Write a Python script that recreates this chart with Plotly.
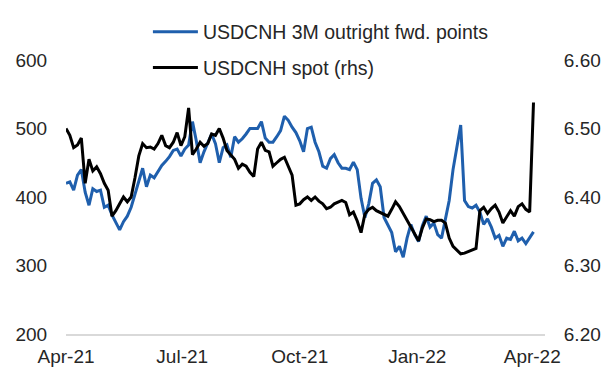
import pandas as pd
import plotly.graph_objects as go

# ---- data ----
start_date = "2021-04-01"
n_points = 123
step = "3D"

fwd_points = [420, 422, 410, 432, 440, 407, 388, 412, 408, 410,
              385, 388, 374, 364, 352, 364, 372, 385, 405, 422,
              442, 415, 432, 428, 438, 446, 452, 459, 468, 470,
              460, 470, 476, 510, 482, 450, 466, 480, 492, 478,
              450, 472, 476, 458, 488, 480, 485, 492, 500, 500,
              500, 510, 486, 480, 480, 488, 497, 518, 512, 502,
              494, 482, 466, 500, 502, 480, 466, 445, 442, 456,
              462, 450, 442, 442, 440, 451, 440, 398, 370, 390,
              420, 425, 415, 370, 360, 348, 320, 328, 312, 340,
              360, 345, 335, 358, 372, 356, 362, 345, 340, 365,
              395, 440, 470, 505, 395, 386, 384, 388, 378, 360,
              368, 356, 340, 344, 328, 340, 338, 350, 336, 340,
              332, 340, 349]

spot = [6.500, 6.490, 6.472, 6.476, 6.486, 6.420, 6.455, 6.438, 6.444, 6.434,
        6.420, 6.410, 6.372, 6.380, 6.390, 6.400, 6.393, 6.400, 6.428, 6.460,
        6.478, 6.472, 6.473, 6.470, 6.478, 6.490, 6.475, 6.472, 6.480, 6.494,
        6.475, 6.488, 6.530, 6.462, 6.470, 6.480, 6.474, 6.478, 6.492, 6.490,
        6.500, 6.486, 6.468, 6.462, 6.455, 6.442, 6.448, 6.445, 6.436, 6.430,
        6.470, 6.480, 6.468, 6.466, 6.445, 6.450, 6.455, 6.458, 6.446, 6.432,
        6.388, 6.390, 6.396, 6.400, 6.395, 6.400, 6.394, 6.390, 6.383, 6.385,
        6.390, 6.392, 6.395, 6.392, 6.374, 6.378, 6.365, 6.348, 6.375, 6.382,
        6.385, 6.380, 6.377, 6.375, 6.372, 6.382, 6.393, 6.386, 6.376, 6.364,
        6.355, 6.345, 6.336, 6.355, 6.368, 6.367, 6.364, 6.366, 6.366, 6.362,
        6.340, 6.328, 6.322, 6.317, 6.318, 6.320, 6.322, 6.325, 6.380, 6.385,
        6.376, 6.383, 6.388, 6.378, 6.362, 6.372, 6.380, 6.372, 6.386, 6.390,
        6.382, 6.378, 6.538]

tick_dates = ["2021-04-01", "2021-07-01", "2021-10-01", "2022-01-01", "2022-04-01"]
tick_labels = ["Apr-21", "Jul-21", "Oct-21", "Jan-22", "Apr-22"]

left_ticks = [200, 300, 400, 500, 600]
right_ticks = [6.20, 6.30, 6.40, 6.50, 6.60]

dates = pd.date_range(start_date, periods=n_points, freq=step)

FONT = "Liberation Sans, Arial, sans-serif"
TXT = "#262626"

fig = go.Figure()
fig.add_trace(go.Scatter(
    x=dates, y=fwd_points, mode="lines",
    name="USDCNH 3M outright fwd. points",
    line=dict(color="#1f5fad", width=3),
    legend="legend",
))
fig.add_trace(go.Scatter(
    x=dates, y=spot, mode="lines",
    name="USDCNH spot (rhs)",
    line=dict(color="#000000", width=3),
    yaxis="y2",
    legend="legend2",
))

# the page body adds an 8px margin, so the figure is sized 8px smaller
fig.update_layout(
    width=606, height=360,
    margin=dict(l=58, r=69, t=52, b=34, autoexpand=False),
    paper_bgcolor="white", plot_bgcolor="white",
    font=dict(family=FONT, size=19, color=TXT),
    xaxis=dict(
        type="date",
        range=["2021-04-01", "2022-04-11"],
        tickvals=tick_dates, ticktext=tick_labels,
        showgrid=False, zeroline=False, automargin=False,
        showline=True, linecolor="#d9d9d9", linewidth=1.5,
        ticks="outside", ticklen=4, tickcolor="rgba(0,0,0,0)",
        tickfont=dict(family=FONT, size=19, color=TXT),
    ),
    yaxis=dict(
        range=[200, 600], tickvals=left_ticks,
        showgrid=False, zeroline=False, showline=False, automargin=False,
        ticks="outside", ticklen=14, tickcolor="rgba(0,0,0,0)",
        tickfont=dict(family=FONT, size=19, color=TXT),
    ),
    yaxis2=dict(
        range=[6.2, 6.6], tickvals=right_ticks, tickformat=".2f",
        overlaying="y", side="right", automargin=False,
        showgrid=False, zeroline=False, showline=False,
        ticks="outside", ticklen=14, tickcolor="rgba(0,0,0,0)",
        tickfont=dict(family=FONT, size=19, color=TXT),
    ),
    legend=dict(
        x=0.171, y=1.102, xanchor="left", yanchor="middle",
        font=dict(family=FONT, size=19.5, color=TXT),
        bgcolor="rgba(0,0,0,0)", itemwidth=45,
    ),
    legend2=dict(
        x=0.171, y=0.971, xanchor="left", yanchor="middle",
        font=dict(family=FONT, size=19.5, color=TXT),
        bgcolor="rgba(0,0,0,0)", itemwidth=45,
    ),
    showlegend=True,
)

fig.write_html("out.html")
